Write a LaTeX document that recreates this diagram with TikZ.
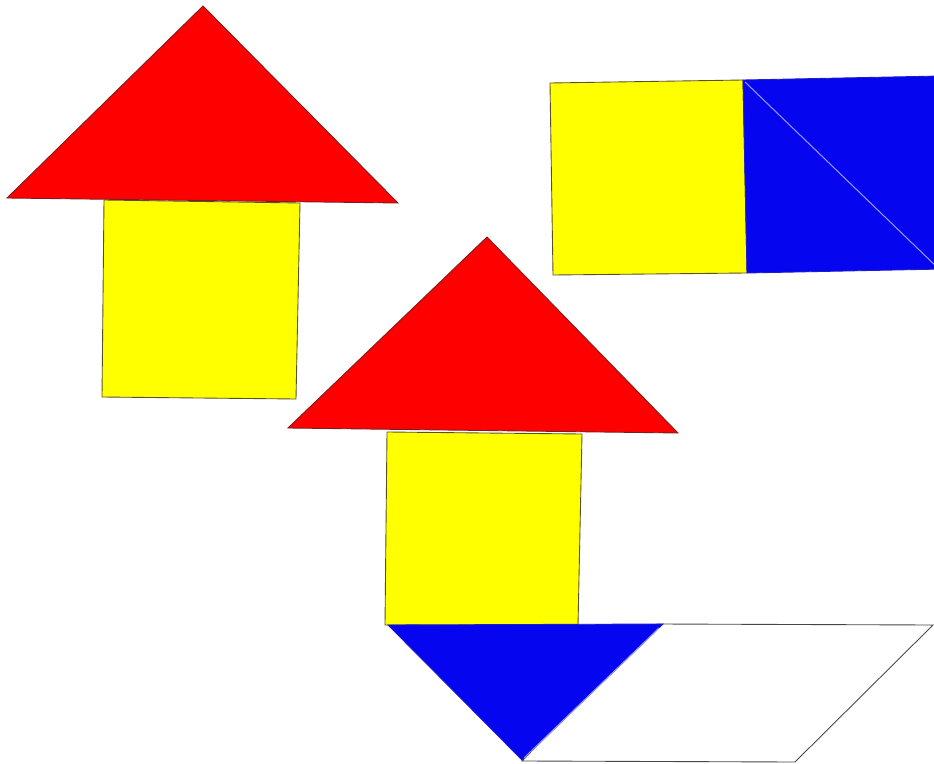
\documentclass[tikz,border=0pt]{standalone}
\begin{document}
\begin{tikzpicture}[x=0.02cm,y=-0.02cm,line join=miter,
  redpiece/.style={fill={rgb,255:red,255;green,0;blue,0},draw={rgb,255:red,120;green,30;blue,30},line width=0.5pt},
  yellowpiece/.style={fill={rgb,255:red,255;green,255;blue,0},draw={rgb,255:red,90;green,80;blue,40},line width=0.5pt},
  bluepiece/.style={fill={rgb,255:red,5;green,5;blue,240},draw={rgb,255:red,30;green,30;blue,200},line width=0.5pt},
  seam/.style={draw={rgb,255:red,150;green,150;blue,255},line width=0.6pt},
  outline/.style={draw={rgb,255:red,70;green,70;blue,70},line width=0.5pt}]
\useasboundingbox (0,0) rectangle (934,764);
\begin{scope}
\clip (0,0) rectangle (934,764);
% house 1
\filldraw[yellowpiece] (104,200) -- (300,203) -- (296,399) -- (102,397) -- cycle;
\filldraw[redpiece] (203,6) -- (398,203) -- (7,198) -- cycle;
% house 2
\filldraw[yellowpiece] (387,432) -- (582,434) -- (578,626) -- (385,625) -- cycle;
\filldraw[redpiece] (487,237) -- (678,433) -- (288,428) -- cycle;
% top right rectangle
\filldraw[yellowpiece] (550,83) -- (743,80) -- (747,273) -- (553,275) -- cycle;
\filldraw[bluepiece] (743,80) -- (940,76) -- (944,269) -- (747,273) -- cycle;
\draw[seam] (745,82) -- (940,270);
% bottom parallelogram and blue triangle
\draw[outline] (657,624) -- (933,625) -- (795,762) -- (522,761) -- cycle;
\filldraw[bluepiece] (388,625) -- (663,624) -- (522,760) -- cycle;
\draw[seam] (659,628) -- (524,758);
\end{scope}
\end{tikzpicture}
\end{document}
